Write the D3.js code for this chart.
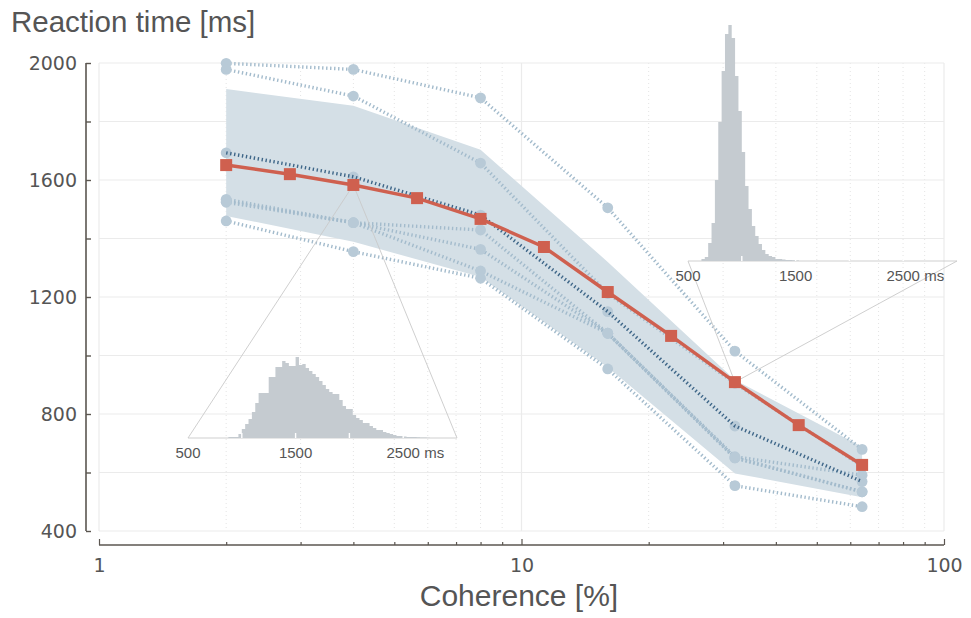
<!DOCTYPE html>
<html>
<head>
<meta charset="utf-8">
<script src="https://cdn.jsdelivr.net/npm/d3@7"></script>
<style>
  body { margin: 0; background: #fff; }
  svg { display: block; }
</style>
</head>
<body>
<div id="chart"></div>
<script>
// coherence levels of the subject data (%)
const coherence = [2, 4, 8, 16, 32, 64];

// mean reaction time per subject (ms)
const subjectRT = [
  [1999, 1978, 1881, 1505, 1015, 679],
  [1978, 1887, 1658, 1212, 905, 622],
  [1534, 1454, 1429, 1076, 654, 591],
  [1524, 1454, 1363, 1076, 650, 534],
  [1528, 1454, 1289, 1076, 650, 534],
  [1460, 1355, 1264, 954, 555, 483]
];
// highlighted subject (dark dotted line)
const highlightRT = [1693, 1611, 1480, 1150, 759, 569];

// shaded spread across subjects
const bandLow = [1477, 1389, 1268, 960, 597, 515];
const bandHigh = [1911, 1854, 1703, 1320, 916, 688];

// model prediction (red line)
const modelCoherence = [2, 2.83, 4, 5.66, 8, 11.3, 16, 22.6, 32, 45.3, 64];
const modelRT = [1651, 1620, 1583, 1538, 1467, 1371, 1217, 1067, 909, 762, 626];

// RT histograms shown in the insets
const binWidth = 31.25;
const histLowStart = 875;   // coherence 4 %
const histLowCounts = [1, 1, 1, 4, 9, 14, 19, 26, 35, 45, 45, 45, 61, 61, 71, 71, 77, 75, 72, 72,
  81, 73, 74, 70, 67, 64, 61, 57, 53, 49, 46, 44, 44, 38, 32, 29, 29, 23, 20, 18,
  15, 15, 12, 10, 8, 8, 6, 5, 4, 3, 2, 2, 1.5, 1, 1, 1, 0.7, 0.5, 0.5, 0.3];
const histHighStart = 625;  // coherence 32 %
const histHighCounts = [2, 4, 18, 38, 81, 139, 190, 227, 236, 223, 185, 150, 109, 75, 52, 35,
  25, 17, 11, 7, 5, 4, 2, 2, 1.5, 1, 1, 0.7, 0.5];

const yTicks = [400, 600, 800, 1000, 1200, 1400, 1600, 1800, 2000];
const histTicks = [1000, 1500, 2000, 2500];
const histLabels = [500, 1500, 2500];

const width = 971, height = 618;

const svg = d3.select("#chart").append("svg")
  .attr("width", width)
  .attr("height", height);

const x = d3.scaleLog().domain([1, 100]).range([99, 944]);
const y = d3.scaleLinear().domain([400, 2000]).range([531, 63]);

const textColor = "#555";
const axisColor = "#5b5650";

// grid
const grid = svg.append("g");
const logTicks = x.ticks();
grid.selectAll("line.vminor")
  .data(logTicks.filter(d => ![1, 10, 100].includes(d)))
  .join("line")
    .attr("x1", d => x(d)).attr("x2", d => x(d))
    .attr("y1", y(2000)).attr("y2", y(400))
    .attr("stroke", "#e4e4e4")
    .attr("stroke-width", 1)
    .attr("stroke-dasharray", "1,3");
grid.selectAll("line.h")
  .data(yTicks)
  .join("line")
    .attr("x1", x(1)).attr("x2", x(100))
    .attr("y1", d => y(d)).attr("y2", d => y(d))
    .attr("stroke", "#ebebeb")
    .attr("stroke-width", 1.2);
grid.selectAll("line.vmajor")
  .data([1, 10, 100])
  .join("line")
    .attr("x1", d => x(d)).attr("x2", d => x(d))
    .attr("y1", y(2000)).attr("y2", y(400))
    .attr("stroke", "#ebebeb")
    .attr("stroke-width", 1.2);

// axes
const yAxis = d3.axisLeft(y)
  .tickValues(yTicks)
  .tickSize(-5)
  .tickPadding(9)
  .tickFormat(d => d % 400 === 0 ? d : "");
const gy = svg.append("g")
  .attr("transform", "translate(86,0)")
  .call(yAxis);
gy.select(".domain").attr("stroke", axisColor).attr("stroke-width", 1.6)
  .attr("d", `M0,${y(2000)}V${y(400)}`);
gy.selectAll(".tick line").attr("stroke", axisColor).attr("stroke-width", 1.4);
gy.selectAll(".tick text")
  .attr("fill", textColor)
  .style("font-family", "DejaVu Sans")
  .style("font-size", "19px");

const xAxis = d3.axisBottom(x)
  .tickValues(logTicks)
  .tickSize(-5)
  .tickPadding(14)
  .tickFormat(d => [1, 10, 100].includes(d) ? d : "");
const gx = svg.append("g")
  .attr("transform", "translate(0,545)")
  .call(xAxis);
gx.select(".domain").attr("stroke", axisColor).attr("stroke-width", 1.6)
  .attr("d", `M${x(1)},0H${x(100)}`);
gx.selectAll(".tick line")
  .attr("stroke", axisColor)
  .attr("stroke-width", 1.2)
  .attr("y2", d => [1, 10, 100].includes(d) ? -6 : -3);
gx.selectAll(".tick text")
  .attr("fill", textColor)
  .style("font-family", "DejaVu Sans")
  .style("font-size", "19px");

svg.append("text")
  .attr("x", 11).attr("y", 32)
  .attr("fill", textColor)
  .style("font-family", "Liberation Sans, Arial, sans-serif")
  .style("font-size", "29.5px")
  .text("Reaction time [ms]");

svg.append("text")
  .attr("x", 519).attr("y", 606)
  .attr("text-anchor", "middle")
  .attr("fill", textColor)
  .style("font-family", "Liberation Sans, Arial, sans-serif")
  .style("font-size", "30px")
  .text("Coherence [%]");

// spread band
const area = d3.area()
  .x((d, i) => x(coherence[i]))
  .y0((d, i) => y(bandLow[i]))
  .y1((d, i) => y(bandHigh[i]));
svg.append("path")
  .attr("d", area(coherence))
  .attr("fill", "#d4dfe6");

// subject lines
const subjLine = d3.line()
  .x((d, i) => x(coherence[i]))
  .y(d => y(d));
svg.append("g").selectAll("path")
  .data(subjectRT)
  .join("path")
    .attr("d", subjLine)
    .attr("fill", "none")
    .attr("stroke", "#a3bbcc")
    .attr("stroke-width", 3.4)
    .attr("stroke-dasharray", "1.4,2.6");

const allSubjects = subjectRT.concat([highlightRT]);
svg.append("g").selectAll("g")
  .data(allSubjects)
  .join("g")
  .selectAll("circle")
  .data(d => d)
  .join("circle")
    .attr("cx", (d, i) => x(coherence[i]))
    .attr("cy", d => y(d))
    .attr("r", 5.4)
    .attr("fill", "#b8cad7");

svg.append("path")
  .attr("d", subjLine(highlightRT))
  .attr("fill", "none")
  .attr("stroke", "#3e6688")
  .attr("stroke-width", 3.4)
  .attr("stroke-dasharray", "1.4,2.6");

// insets with RT distributions
const insets = [
  {coh: 4, rt: modelRT[2], baseY: 438, left: 188, start: histLowStart, counts: histLowCounts},
  {coh: 32, rt: modelRT[8], baseY: 261, left: 688, start: histHighStart, counts: histHighCounts}
];
const hy = d3.scaleLinear().domain([0, 240]).range([0, 240]);

insets.forEach(function(ins) {
  const sx = d3.scaleLinear().domain([500, 3000]).range([ins.left, ins.left + 269]);
  const g = svg.append("g");
  const px = x(ins.coh), py = y(ins.rt);

  g.append("path")
    .attr("d", `M${sx(500)},${ins.baseY}L${px},${py}L${sx(3000)},${ins.baseY}Z`)
    .attr("fill", "none")
    .attr("stroke", "#c9c9c9")
    .attr("stroke-width", 0.9);

  // step outline of the histogram, one closing point after the last bin
  const steps = ins.counts.concat([0]);
  const hist = d3.area()
    .curve(d3.curveStepAfter)
    .x((d, i) => sx(ins.start + i * binWidth))
    .y0(ins.baseY)
    .y1(d => ins.baseY - hy(d));
  g.append("path")
    .attr("d", hist(steps))
    .attr("fill", "#c5cbd0");

  g.selectAll("line.tick")
    .data(histTicks)
    .join("line")
      .attr("x1", d => sx(d)).attr("x2", d => sx(d))
      .attr("y1", ins.baseY).attr("y2", ins.baseY - 5)
      .attr("stroke", "#fff")
      .attr("stroke-width", 1.4);

  g.selectAll("text")
    .data(histLabels)
    .join("text")
      .attr("x", d => sx(d))
      .attr("y", ins.baseY + 20)
      .attr("text-anchor", "middle")
      .attr("fill", textColor)
      .style("font-family", "Liberation Sans, Arial, sans-serif")
      .style("font-size", "15px")
      .text(d => d);

  g.append("text")
    .attr("x", sx(2500) + 17)
    .attr("y", ins.baseY + 20)
    .attr("fill", textColor)
    .style("font-family", "Liberation Sans, Arial, sans-serif")
    .style("font-size", "15px")
    .attr("xml:space", "preserve")
    .text(" ms");
});

// model line
const modelLine = d3.line()
  .x((d, i) => x(modelCoherence[i]))
  .y(d => y(d));
svg.append("path")
  .attr("d", modelLine(modelRT))
  .attr("fill", "none")
  .attr("stroke", "#cf604f")
  .attr("stroke-width", 3.5);
svg.append("g").selectAll("rect")
  .data(modelRT)
  .join("rect")
    .attr("x", (d, i) => x(modelCoherence[i]) - 6)
    .attr("y", d => y(d) - 6)
    .attr("width", 12)
    .attr("height", 12)
    .attr("fill", "#cf604f");
</script>
</body>
</html>
